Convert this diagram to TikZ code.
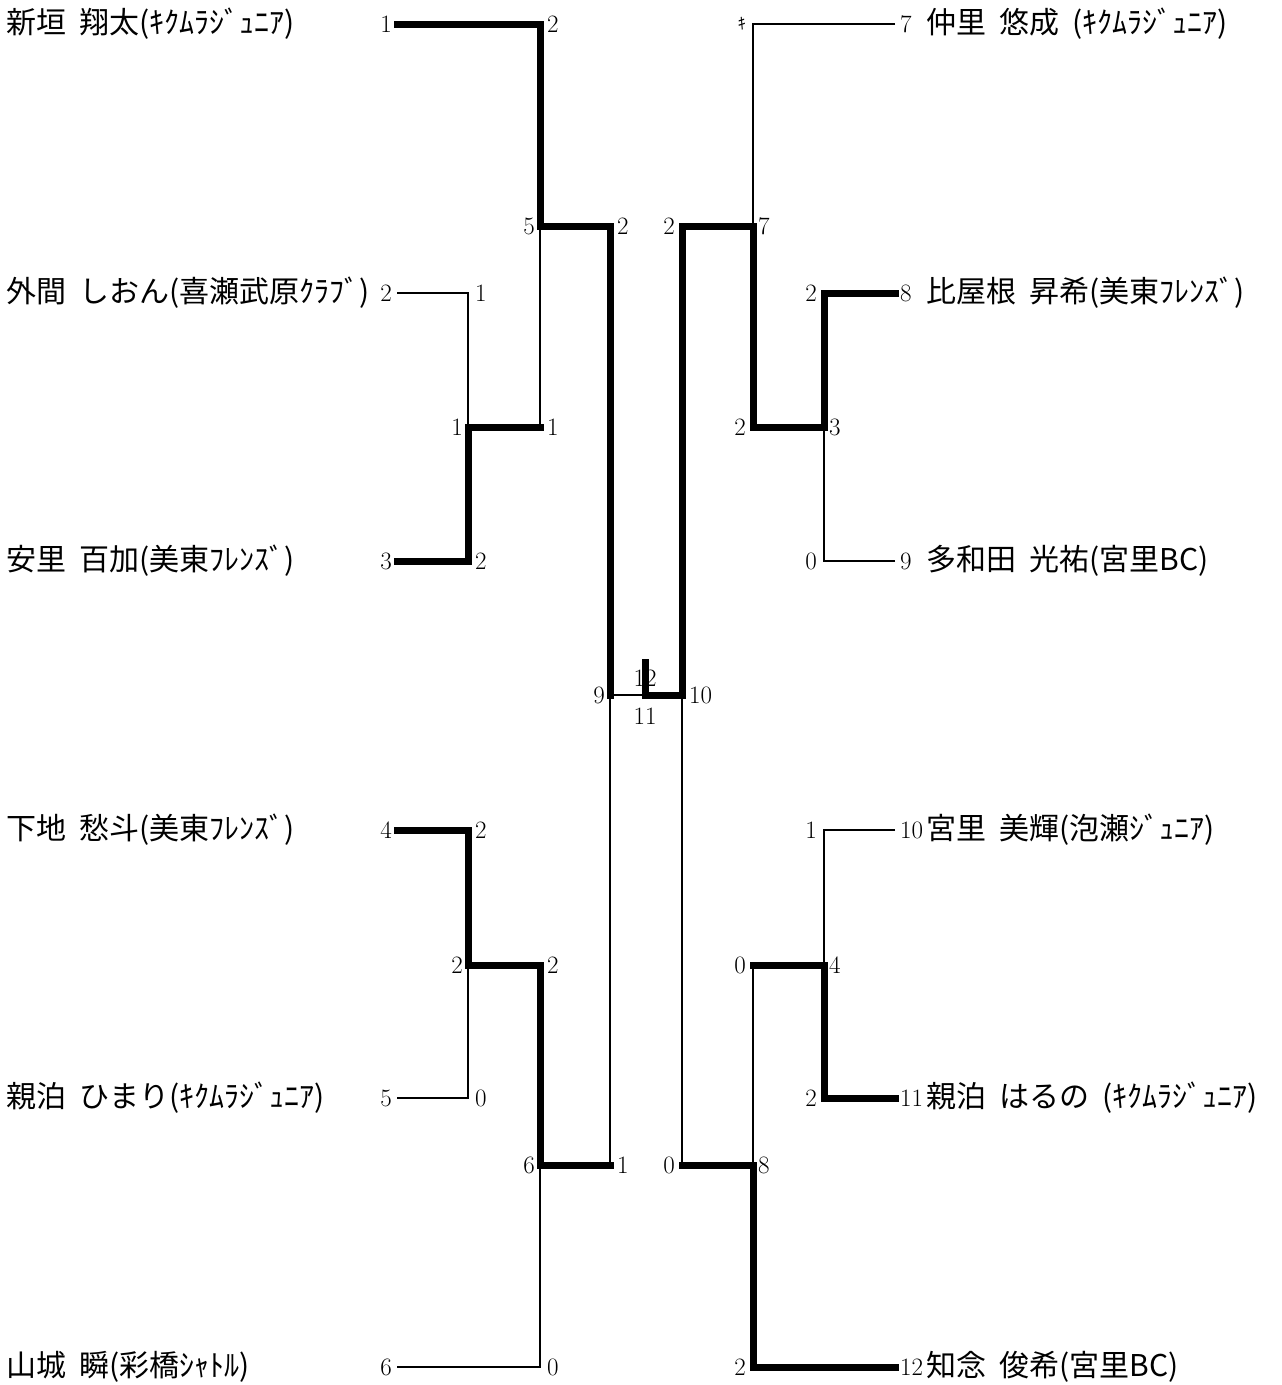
\documentclass[tikz,border=0pt]{standalone}
\usepackage{fontspec}
\newfontfamily\jp{Noto Sans CJK JP}
\newcommand{\gapsp}{\hspace{13pt}}
\begin{document}
\begin{tikzpicture}[x=1pt,y=-1pt,
  thin line/.style={line width=1.5pt},
  thick line/.style={line width=7pt,line cap=rect},
  namelbl/.style={anchor=west,inner sep=0pt,font=\jp\fontsize{30}{30}\selectfont},
  numl/.style={anchor=east,inner sep=5pt,font=\fontsize{25}{25}\selectfont},
  numr/.style={anchor=west,inner sep=5pt,font=\fontsize{25}{25}\selectfont},
  numc/.style={inner sep=1pt,font=\fontsize{25}{25}\selectfont}]
\useasboundingbox (0,0) rectangle (1282,1385);
% coordinates
\coordinate (p1) at (397,24);
\coordinate (p2) at (397,293);
\coordinate (p3) at (397,561);
\coordinate (p4) at (397,830);
\coordinate (p5) at (397,1098);
\coordinate (p6) at (397,1367);
\coordinate (p7) at (895,24);
\coordinate (p8) at (895,293);
\coordinate (p9) at (895,561);
\coordinate (p10) at (895,830);
\coordinate (p11) at (895,1098);
\coordinate (p12) at (895,1367);
\coordinate (m1) at (468,427);
\coordinate (m2) at (468,965);
\coordinate (m5) at (540,226);
\coordinate (m6) at (540,1165);
\coordinate (m9) at (610,695);
\coordinate (fin) at (645,695);
\coordinate (champ) at (645,662);
\coordinate (m10) at (682,695);
\coordinate (m7) at (753,226);
\coordinate (m8) at (753,1165);
\coordinate (m3) at (824,427);
\coordinate (m4) at (824,965);
% final labels under the stub
\node[numc] (l12) at (645,678) {12};
\node[numc] (l11) at (645,716) {11};
% left bracket
\draw[thick line] (p1) -| (m5);
\draw[thin line] (p2) -| (m1);
\draw[thick line] (p3) -| (m1);
\draw[thick line] (m1) -- (m1 -| m5);
\draw[thin line] (m1 -| m5) -- (m5);
\draw[thick line] (m5) -| (m9);
\draw[thick line] (p4) -| (m2);
\draw[thin line] (p5) -| (m2);
\draw[thick line] (m2) -| (m6);
\draw[thin line] (p6) -| (m6);
\draw[thick line] (m6) -- (m6 -| m9);
\draw[thin line] (m6 -| m9) -- (m9);
% final
\draw[thin line] (m9) -- (fin);
\draw[thick line] (fin) -- (m10);
\draw[thick line] (fin) -- (champ);
% right bracket
\draw[thick line] (m10) |- (m7);
\draw[thin line] (p7) -| (m7);
\draw[thick line] (m7) |- (m3);
\draw[thick line] (p8) -| (m3);
\draw[thin line] (p9) -| (m3);
\draw[thin line] (m10) -- (m10 |- m8);
\draw[thick line] (m10 |- m8) -- (m8);
\draw[thin line] (m8) -- (m8 |- m4);
\draw[thick line] (m8 |- m4) -- (m4);
\draw[thick line] (p12) -| (m8);
\draw[thin line] (p10) -| (m4);
\draw[thick line] (p11) -| (m4);
% names
\node[namelbl] (n1) at (6,24) {新垣\gapsp 翔太(ｷｸﾑﾗｼﾞｭﾆｱ)};
\node[namelbl] (n2) at (6,293) {外間\gapsp しおん(喜瀬武原ｸﾗﾌﾞ)};
\node[namelbl] (n3) at (6,561) {安里\gapsp 百加(美東ﾌﾚﾝｽﾞ)};
\node[namelbl] (n4) at (6,830) {下地\gapsp 愁斗(美東ﾌﾚﾝｽﾞ)};
\node[namelbl] (n5) at (6,1098) {親泊\gapsp ひまり(ｷｸﾑﾗｼﾞｭﾆｱ)};
\node[namelbl] (n6) at (6,1367) {山城\gapsp 瞬(彩橋ｼｬﾄﾙ)};
\node[namelbl] (n7) at (926,24) {仲里\gapsp 悠成\gapsp (ｷｸﾑﾗｼﾞｭﾆｱ)};
\node[namelbl] (n8) at (926,293) {比屋根\gapsp 昇希(美東ﾌﾚﾝｽﾞ)};
\node[namelbl] (n9) at (926,561) {多和田\gapsp 光祐(宮里BC)};
\node[namelbl] (n10) at (926,830) {宮里\gapsp 美輝(泡瀬ｼﾞｭﾆｱ)};
\node[namelbl] (n11) at (926,1098) {親泊\gapsp はるの\gapsp (ｷｸﾑﾗｼﾞｭﾆｱ)};
\node[namelbl] (n12) at (926,1367) {知念\gapsp 俊希(宮里BC)};
% seed numbers
\node[numl] at (p1) {1};
\node[numl] at (p2) {2};
\node[numl] at (p3) {3};
\node[numl] at (p4) {4};
\node[numl] at (p5) {5};
\node[numl] at (p6) {6};
\node[numr] at (p7) {7};
\node[numr] at (p8) {8};
\node[numr] at (p9) {9};
\node[numr] at (p10) {10};
\node[numr] at (p11) {11};
\node[numr] at (p12) {12};
% left scores
\node[numr] at (542,24) {2};
\node[numr] at (470,293) {1};
\node[numr] at (470,561) {2};
\node[numl] at (m1) {1};
\node[numr] at (542,427) {1};
\node[numl] at (m5) {5};
\node[numr] at (612,226) {2};
\node[numr] at (470,830) {2};
\node[numr] at (470,1098) {0};
\node[numl] at (m2) {2};
\node[numr] at (542,965) {2};
\node[numl] at (m6) {6};
\node[numr] at (542,1367) {0};
\node[numr] at (612,1165) {1};
\node[numl] at (m9) {9};
\node[numr] at (684,695) {10};
% right scores
\node[numl] at (680,226) {2};
\node[numr] at (m7) {7};
\node[numl, font=\jp\fontsize{16}{16}\selectfont] at (751,24) {ｷ};
\node[numl] at (751,427) {2};
\node[numr] at (m3) {3};
\node[numl] at (822,293) {2};
\node[numl] at (822,561) {0};
\node[numl] at (680,1165) {0};
\node[numr] at (m8) {8};
\node[numl] at (751,965) {0};
\node[numr] at (m4) {4};
\node[numl] at (822,830) {1};
\node[numl] at (822,1098) {2};
\node[numl] at (751,1367) {2};
\end{tikzpicture}
\end{document}
